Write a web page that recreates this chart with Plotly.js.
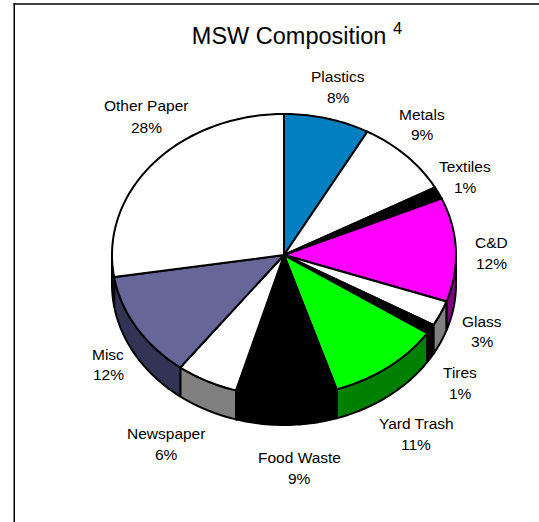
<!DOCTYPE html>
<html>
<head>
<meta charset="utf-8">
<script src="https://cdn.plot.ly/plotly-3.0.1.min.js"></script>
<style>html,body{margin:0;padding:0;background:#fff}#c{width:539px;height:522px}</style>
</head>
<body>
<div id="c"></div>
<script>
// Data
var categories = ["Plastics","Metals","Textiles","C&D","Glass","Tires","Yard Trash","Food Waste","Newspaper","Misc","Other Paper"];
var values = [8.05,9,1.4,11.9,2.9,1.1,10.7,9.45,5.8,12.2,27.5];
var topColors = ["#0080C0","#FFFFFF","#000000","#FF00FF","#FFFFFF","#000000","#00FF00","#000000","#FFFFFF","#666699","#FFFFFF"];
var sideColors = ["#004060","#808080","#000000","#800080","#808080","#000000","#008000","#000000","#808080","#333355","#808080"];
// Label centres in page pixels: [x, y of name line, y of percent line]
var labelX = [338,422,465,491,482,460,416,299,166,108,146];
var labelY1 = [76,115,166,243,321,372,423,457,433,354,106];
var labelY2 = [97,135,187,263,341,393,444,478,454,374,127];

// Layout constants
var W = 539, H = 522, cx = 284, cy = 255, rx = 172, ry = 141, depthPx = 29;
var depth = depthPx / ry;
var LW = 2;

function pt(a){ return [Math.sin(a), Math.cos(a)]; }
function arc(a0, a1, off){
  var n = Math.max(2, Math.ceil(Math.abs(a1 - a0) / 0.02)), out = [];
  for (var i = 0; i <= n; i++){
    var p = pt(a0 + (a1 - a0) * i / n);
    out.push([p[0], p[1] - off]);
  }
  return out;
}
function tr(points, color, name){
  return {
    type: "scatter", mode: "lines", name: name, fill: "toself", fillcolor: color,
    x: points.map(function(p){return p[0];}), y: points.map(function(p){return p[1];}),
    line: {color: "#000", width: LW, simplify: false}, hoverinfo: "skip", showlegend: false
  };
}

var total = values.reduce(function(a,b){return a+b;},0);
var walls = [], faces = [], acc = 0;
values.forEach(function(v, i){
  var a0 = acc / total * 2 * Math.PI;
  acc += v;
  var a1 = acc / total * 2 * Math.PI;
  var s = Math.max(a0, Math.PI / 2), e = Math.min(a1, 3 * Math.PI / 2);
  if (e > s){
    var wall = arc(s, e, 0).concat(arc(e, s, depth));
    wall.push(wall[0]);
    walls.push(tr(wall, sideColors[i], categories[i] + " side"));
  }
  var face = [[0,0]].concat(arc(a0, a1, 0));
  face.push([0,0]);
  faces.push(tr(face, topColors[i], categories[i]));
});

var ann = [];
function px(x){ return x / W; }
function py(y){ return 1 - y / H; }
categories.forEach(function(c, i){
  var common = {xref:"paper", yref:"paper", showarrow:false, xanchor:"center", yanchor:"middle",
    font:{family:"Liberation Sans, Arial, sans-serif", size:15.5, color:"#000"}};
  ann.push(Object.assign({x:px(labelX[i]), y:py(labelY1[i]), text:c.replace("&","&amp;")}, common));
  ann.push(Object.assign({x:px(labelX[i]), y:py(labelY2[i]), text:Math.round(values[i]/total*100)+"%"}, common));
});

var layout = {
  width: W, height: H, margin: {l:0,r:0,t:0,b:0}, paper_bgcolor:"#fff", plot_bgcolor:"#fff",
  showlegend:false,
  title:{text:"MSW Composition <sup>4</sup>", x:297/W, xanchor:"center", y:1-36/H, yanchor:"middle",
    font:{family:"Liberation Sans, Arial, sans-serif", size:23.5, color:"#000"}},
  xaxis:{range:[-cx/rx,(W-cx)/rx], visible:false, fixedrange:true},
  yaxis:{range:[-(H-cy)/ry,cy/ry], visible:false, fixedrange:true},
  annotations: ann,
  shapes:[
    {type:"line", xref:"paper", yref:"paper", x0:14.25/W, x1:14.25/W, y0:0, y1:1-3.5/H, line:{color:"#000",width:1.5}, layer:"below"},
    {type:"line", xref:"paper", yref:"paper", x0:13.5/W, x1:1, y0:1-4/H, y1:1-4/H, line:{color:"#000",width:1.5}, layer:"below"}
  ]
};
Plotly.newPlot("c", walls.concat(faces), layout, {displayModeBar:false, staticPlot:true});
</script>
</body>
</html>
